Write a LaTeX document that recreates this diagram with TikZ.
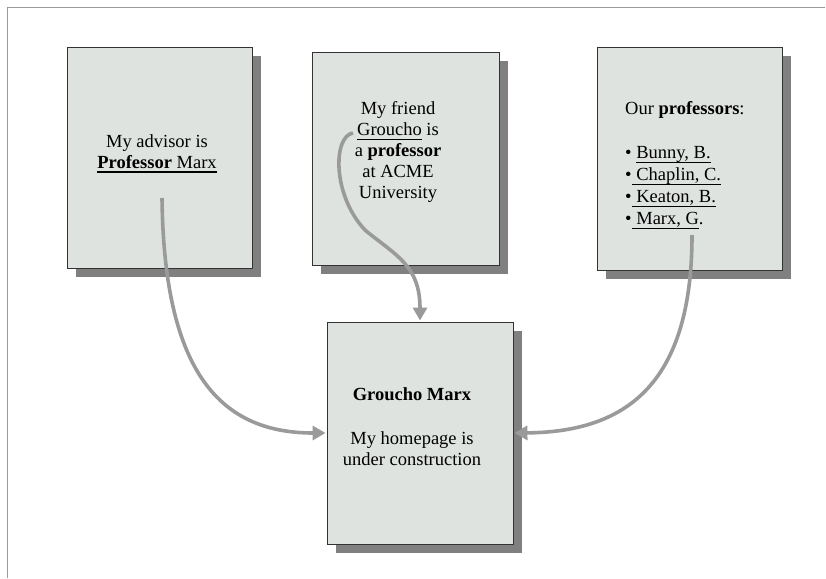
\documentclass[tikz,border=0pt]{standalone}
\usepackage{fontspec}
\setmainfont{Liberation Serif}
\usetikzlibrary{shadows,arrows.meta}
\definecolor{pagefill}{HTML}{DFE3E0}
\definecolor{shade}{HTML}{808080}
\definecolor{linkgray}{HTML}{9A9A9A}
\newcommand{\lnk}[1]{\setbox0\hbox{#1}\rlap{\rule[-4.3pt]{\wd0}{1.3pt}}\box0\relax}

\begin{document}
\begin{tikzpicture}[x=1pt,y=-1pt,shorten >=1pt]
\tikzstyle{page}=[rectangle,draw=black!80,fill=pagefill,line width=0.9pt,inner sep=0pt,drop shadow={shadow xshift=9pt,shadow yshift=-9pt,fill=shade,opacity=1}]
\tikzstyle{txt}=[font=\fontsize{18.5}{21}\selectfont,inner sep=0pt,align=center,anchor=north]
\tikzstyle{link}=[draw=linkgray,line width=3.6pt,-{Triangle[length=13pt,width=14pt]}]
\useasboundingbox (0,0) rectangle (826,578);
\draw[linkgray,line width=1pt] (7,578) -- (7,8) -- (826,8);

\node[page,minimum width=185pt,minimum height=221pt](advisor) at (159.5,157.5) {};
\node[page,minimum width=187pt,minimum height=213pt](friend) at (405.5,158.5) {};
\node[page,minimum width=185pt,minimum height=223pt](list) at (689.5,158.5) {};
\node[page,minimum width=186pt,minimum height=222pt](home) at (420,433) {};

\node[txt](advisortext) at (157,134.4) {My advisor is\\ \lnk{\textbf{Professor} Marx}};
\node[txt](friendtext) at (398,101.4) {My friend\\ \lnk{Groucho} is\\ a \textbf{professor}\\ at ACME\\ University};
\node[txt,font=\fontsize{18.5}{22}\selectfont,align=left,anchor=north west](listtext) at (625,101.4) {Our \textbf{professors}:\\[22pt] \textbullet\ \lnk{Bunny, B.}\\ \textbullet\lnk{\ Chaplin, C.}\\ \textbullet\lnk{\ Keaton, B.}\\ \textbullet\lnk{\ Marx, G}.};
\node[txt](hometext) at (412,387.5) {\textbf{Groucho Marx}\\[23pt] My homepage is\\ under construction};

\coordinate (advisorfrom) at (162,198);
\coordinate (friendfrom) at (353,133);
\coordinate (listfrom) at (692,235);

\draw[link] (advisorfrom) .. controls (164,375) and (222,433) .. (home.west);
\draw[link] (friendfrom) .. controls (333,136) and (332,195) .. (365,230) .. controls (395,255) and (420,265) .. (home.north);
\draw[link] (listfrom) .. controls (692,380) and (630,432) .. (home.east);
\end{tikzpicture}
\end{document}
